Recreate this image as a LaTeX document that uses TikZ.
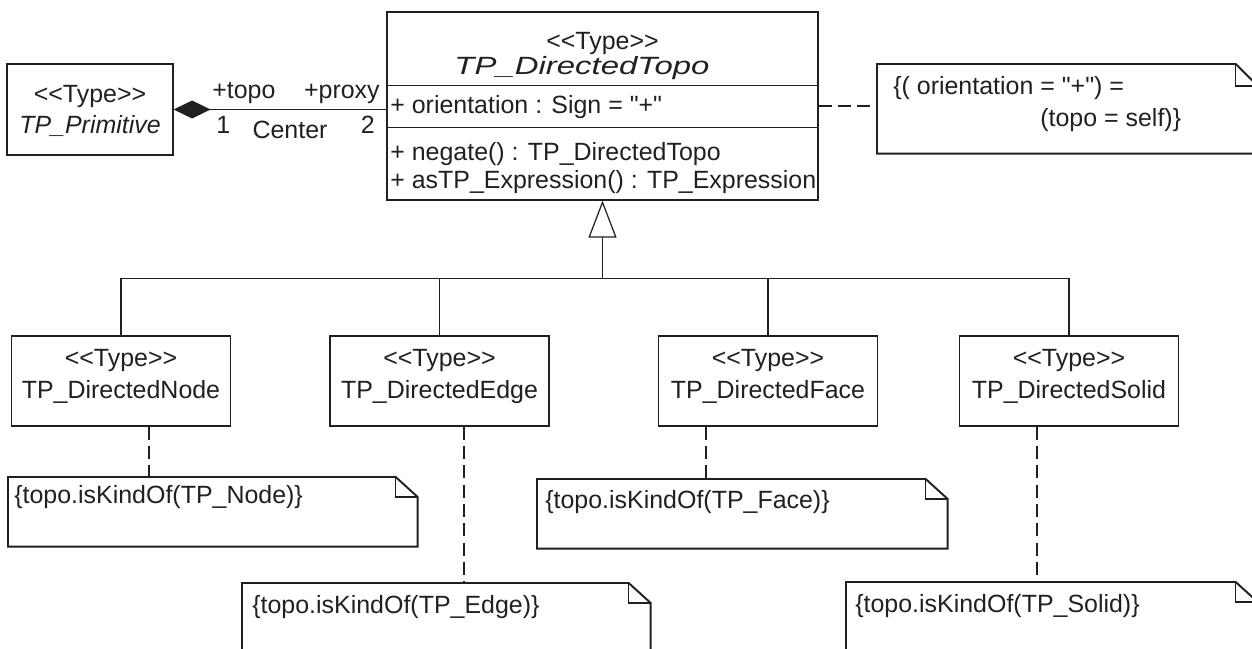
\documentclass[tikz,border=0pt]{standalone}
\usepackage{fontspec}
\setmainfont{Liberation Sans}[Ligatures=TeXOff]
\usetikzlibrary{arrows.meta, positioning, calc}
\definecolor{Ink}{HTML}{231F20}
\newcommand{\stype}{<\kern0pt<Type>\kern0pt>}

\tikzset{
  umltext/.style={inner sep=0pt, text=Ink, font=\fontsize{14.2}{17}\selectfont},
  classbox/.style={draw=Ink, line width=0.7pt, inner sep=0pt},
  notebox/.style={inner sep=0pt, anchor=north west},
  noteline/.style={draw=Ink, line width=1.1pt, line join=miter},
  link/.style={draw=Ink, line width=0.7pt},
  notelink/.style={draw=Ink, line width=0.7pt, dash pattern=on 7.5pt off 3.5pt},
}

\begin{document}
\begin{tikzpicture}[x=0.02cm, y=-0.02cm]
  \clip (0,0) rectangle (1252,649);

  % parent type and its compartments
  \node[classbox, minimum width=8.62cm, minimum height=3.76cm] (topo) at (602.5,106) {};
  \draw[link] ($(topo.north west)+(0,74)$) -- ($(topo.north east)+(0,74)$);
  \draw[link] ($(topo.north west)+(0,116)$) -- ($(topo.north east)+(0,116)$);
  \node[umltext, anchor=base] (topo-st) at (602.5,50) {\stype};
  \node[umltext, anchor=base] (topo-nm) at (582,74) {\scalebox{1.32}[1]{\textit{TP\_DirectedTopo}}};
  \node[umltext, anchor=base west] (topo-at) at (390,113) {+ orientation : Sign = "+"};
  \node[umltext, anchor=base west] (topo-op1) at (390,160) {+ negate() : TP\_DirectedTopo};
  \node[umltext, anchor=base west] (topo-op2) at (390,188) {+ asTP\_Expression() : TP\_Expression};

  % primitive with composition
  \node[classbox, minimum width=3.32cm, minimum height=1.82cm] (prim) at (90,109.5) {};
  \node[umltext, anchor=base] (prim-st) at (90,102) {\stype};
  \node[umltext, anchor=base] (prim-nm) at (90,133) {\textit{TP\_Primitive}};
  \draw[link, {Diamond[length=0.74cm, width=0.36cm]}-] (prim.east) -- (prim.east -| topo.west);
  \node[umltext, anchor=base west] (role-a) at (212,98) {+topo};
  \node[umltext, anchor=base east] (role-b) at (380,98) {+proxy};
  \node[umltext, anchor=base west] (mult-a) at (216,133) {1};
  \node[umltext, anchor=base] (assoc-nm) at (290,138) {Center};
  \node[umltext, anchor=base east] (mult-b) at (375,133) {2};

  % constraint note on orientation
  \node[notebox, minimum width=7.6cm, minimum height=1.78cm] (tnote) at (877,64) {};
  \draw[noteline] (tnote.south west) -- (tnote.north west) -- ($(tnote.north east)+(-22,0)$)
    -- ($(tnote.north east)+(0,22)$) -- (tnote.south east) -- cycle;
  \draw[link] ($(tnote.north east)+(-22,0)$) |- ($(tnote.north east)+(0,22)$);
  \node[umltext, anchor=base west] (tnote-l1) at (893,94) {\{( orientation = "+") =};
  \node[umltext, anchor=base west] (tnote-l2) at (1040,126) {(topo = self)\}};
  \draw[notelink] (topo.east) -- (topo.east -| tnote.west);

  % directed subtypes
  \foreach \n/\x/\nm in {dnode/121/Node, dedge/439.5/Edge, dface/768/Face, dsolid/1069/Solid} {
    \node[classbox, minimum width=4.38cm, minimum height=1.8cm] (\n) at (\x,381) {};
    \node[umltext, anchor=base] (\n-st) at (\x,366) {\stype};
    \node[umltext, anchor=base] (\n-nm) at (\x,398) {TP\_Directed\nm};
  }
  \coordinate (bus) at ($(topo.south)+(0,78)$);
  \draw[link] (dnode.north) |- (bus) -| (dsolid.north);
  \draw[link] (dedge.north) -- (dedge.north |- bus);
  \draw[link] (dface.north) -- (dface.north |- bus);
  \draw[link, -{Triangle[open, length=0.74cm, width=0.56cm]}] (bus) -- (topo.south);

  % kind constraints
  \foreach \n/\x/\y/\w/\tx/\ty/\kind in {nnote/8/477/409/6/26/Node, enote/242/583/408/10/30/Edge,
      fnote/537/479/410/8/29/Face, snote/846/582/411/9/30/Solid} {
    \node[notebox, minimum width=\w*0.02cm, minimum height=1.38cm] (\n) at (\x,\y) {};
    \draw[noteline] (\n.south west) -- (\n.north west) -- ($(\n.north east)+(-22,0)$)
      -- ($(\n.north east)+(0,20)$) -- (\n.south east) -- cycle;
    \draw[link] ($(\n.north east)+(-22,0)$) |- ($(\n.north east)+(0,20)$);
    \node[umltext, anchor=base west] (\n-t) at ($(\n.north west)+(\tx,\ty)$) {\{topo.isKindOf(TP\_\kind)\}};
  }
  \foreach \c/\n/\dx in {dnode/nnote/28, dedge/enote/24.5, dface/fnote/-62, dsolid/snote/-32} {
    \coordinate (\c-l) at ($(\c.south)+(\dx,0)$);
    \draw[notelink] (\c-l) -- (\c-l |- \n.north);
  }
\end{tikzpicture}
\end{document}
